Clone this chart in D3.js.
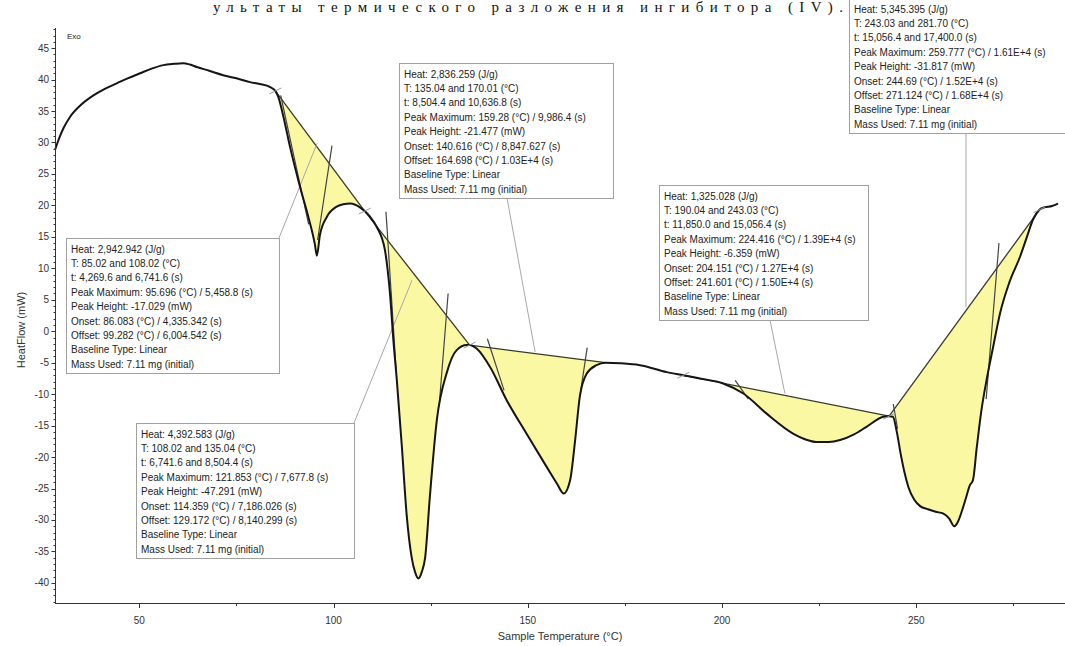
<!DOCTYPE html>
<html><head><meta charset="utf-8">
<script src="https://cdn.jsdelivr.net/npm/d3@7"></script>
<style>
body{margin:0;background:#fff;overflow:hidden;}
svg{display:block;font-family:"Liberation Sans",Arial,sans-serif;}
</style></head><body>
<svg id="c" width="1065" height="646"></svg>
<script>
// ---------- DATA ----------
const temps = [28.3,29.2,30.5,32.2,35,38.2,41,44.2,47,50.2,53,56.2,59,61.3,63,64.8,68,71.6,75,78.5,81,83.7,
  85.02,85.8,87.1,88.8,91.4,93.5,95.2,95.7,96.5,98.3,100.8,102.5,104.3,106.8,108.02,109.4,111.1,113.2,114.6,115.4,
  116.3,117.6,118.8,120.1,121.0,121.85,122.7,123.6,124.8,126.6,129.1,131.7,134.3,135.04,136.9,140.3,144.6,149.7,
  154.9,157.5,159.28,160.9,162.2,163.4,165.2,167.7,170.01,174,178.9,185.8,190.04,194.3,200.3,205.5,211.5,218.4,
  221.5,224.4,227.5,230.4,234,237.2,241.5,243.03,244,245,246,247,248,249.5,251,253,255,257,258.5,259.8,260.8,
  261.8,262.8,263.8,264.6,265.6,266.8,268.1,269.8,271.6,274,276.7,278.5,280.1,281.7,283,285,286.5];
const heatFlow = [28.8,30.4,32.3,34.1,36.0,37.5,38.5,39.4,40.2,41.0,41.7,42.3,42.5,42.6,42.4,42.0,41.4,40.7,40.2,39.6,39.3,38.8,
  38.2,37.2,34.1,29.3,22.9,18.2,13.8,12.0,15.3,18.2,19.8,20.2,20.3,19.7,19.1,18.2,16.6,13.0,5.5,-1.4,
  -7.8,-18.4,-29.0,-35.9,-38.3,-39.3,-38.3,-35.9,-26.3,-14.1,-6.7,-3.0,-2.2,-2.2,-2.8,-5.7,-11.0,-16.3,
  -21.6,-24.2,-25.8,-23.7,-17.3,-10.4,-6.7,-5.4,-5.0,-5.1,-5.4,-6.5,-7.0,-7.5,-8.3,-9.9,-13.1,-16.3,
  -17.2,-17.6,-17.6,-17.3,-16.4,-15.2,-13.6,-13.5,-13.6,-16.0,-19.5,-22.5,-24.8,-26.8,-27.8,-28.3,-28.7,-29.0,-29.8,-31.0,-30.2,
  -28.5,-26.5,-24.5,-23.7,-18.4,-12.5,-7.8,-2.5,2.9,7.8,11.8,15.0,17.8,19.3,19.7,19.9,20.3];

const peakStart = [85.02, 108.02, 135.04, 190.04, 243.03];
const peakEnd   = [108.02, 135.04, 170.01, 243.03, 281.70];

// onset / offset construction lines [t1, h1, t2, h2]
const tangents = [
  [86.4, 37.5, 93.6, 17.0], [99.6, 29.5, 95.9, 14.5],
  [113.5, 19.0, 116.1, -6.0], [129.5, 6.0, 127.3, -11.0],
  [139.6, -1.2, 143.9, -9.4], [165.3, -2.6, 163.4, -10.4],
  [203.4, -7.8, 206.8, -10.8],
  [244.1, -11.6, 245.2, -15.5], [271.3, 14.0, 268.0, -10.8]
];
// where each annotation's leader line points (data units)
const leaderTargets = [[95.8, 29.9], [120.2, 8.1], [151.9, -3.3], [216.2, -9.9], [262.8, 3.8]];

const xTicks = [50, 100, 150, 200, 250];
const xMinorTicks = [75, 125, 175, 225, 275];
const yTicks = [45,40,35,30,25,20,15,10,5,0,-5,-10,-15,-20,-25,-30,-35,-40];

const annotations = [
 ["Heat: 2,942.942 (J/g)","T: 85.02 and 108.02 (°C)","t: 4,269.6 and 6,741.6 (s)","Peak Maximum: 95.696 (°C) / 5,458.8 (s)","Peak Height: -17.029 (mW)","Onset: 86.083 (°C) / 4,335.342 (s)","Offset: 99.282 (°C) / 6,004.542 (s)","Baseline Type: Linear","Mass Used: 7.11 mg (initial)"],
 ["Heat: 4,392.583 (J/g)","T: 108.02 and 135.04 (°C)","t: 6,741.6 and 8,504.4 (s)","Peak Maximum: 121.853 (°C) / 7,677.8 (s)","Peak Height: -47.291 (mW)","Onset: 114.359 (°C) / 7,186.026 (s)","Offset: 129.172 (°C) / 8,140.299 (s)","Baseline Type: Linear","Mass Used: 7.11 mg (initial)"],
 ["Heat: 2,836.259 (J/g)","T: 135.04 and 170.01 (°C)","t: 8,504.4 and 10,636.8 (s)","Peak Maximum: 159.28 (°C) / 9,986.4 (s)","Peak Height: -21.477 (mW)","Onset: 140.616 (°C) / 8,847.627 (s)","Offset: 164.698 (°C) / 1.03E+4 (s)","Baseline Type: Linear","Mass Used: 7.11 mg (initial)"],
 ["Heat: 1,325.028 (J/g)","T: 190.04 and 243.03 (°C)","t: 11,850.0 and 15,056.4 (s)","Peak Maximum: 224.416 (°C) / 1.39E+4 (s)","Peak Height: -6.359 (mW)","Onset: 204.151 (°C) / 1.27E+4 (s)","Offset: 241.601 (°C) / 1.50E+4 (s)","Baseline Type: Linear","Mass Used: 7.11 mg (initial)"],
 ["Heat: 5,345.395 (J/g)","T: 243.03 and 281.70 (°C)","t: 15,056.4 and 17,400.0 (s)","Peak Maximum: 259.777 (°C) / 1.61E+4 (s)","Peak Height: -31.817 (mW)","Onset: 244.69 (°C) / 1.52E+4 (s)","Offset: 271.124 (°C) / 1.68E+4 (s)","Baseline Type: Linear","Mass Used: 7.11 mg (initial)"]
];
const xTitle = "Sample Temperature (°C)";
const yTitle = "HeatFlow (mW)";
const cornerLabel = "Exo";
const pageText = "ультаты термического разложения ингибитора (IV).";

// ---------- LAYOUT (pixels) ----------
const boxLayout = [
  {x:66, y:238, w:213, lx:279, ly:238},
  {x:136, y:423, w:218, lx:354, ly:423},
  {x:399, y:63, w:214, lx:507, ly:198},
  {x:659, y:185, w:209, lx:770, ly:320},
  {x:849, y:-2, w:230, lx:966, ly:133}
];
const boxH = 135, lineGap = 14.4;

// ---------- DRAW ----------
const svg = d3.select("#c");
const x = d3.scaleLinear().domain([28.3, 288.3]).range([55, 1065]);
const y = d3.scaleLinear().domain([48.2, -43.2]).range([28, 603]);

const pts = temps.map((t,i)=>({t, h: heatFlow[i]}));
const hAt = t => {
  for (let i=0;i<temps.length-1;i++){
    if (t>=temps[i] && t<=temps[i+1]) {
      const f=(t-temps[i])/(temps[i+1]-temps[i]);
      return heatFlow[i]+f*(heatFlow[i+1]-heatFlow[i]);
    }
  }
  return heatFlow[heatFlow.length-1];
};

// page text strip above the chart
svg.append("text").attr("x",213).attr("y",12).attr("font-family","'Liberation Serif','Times New Roman',serif")
  .attr("font-size",15).attr("fill","#111")
  .attr("textLength",630).attr("lengthAdjust","spacing").text(pageText);

const plot = svg.append("g");

// peak fills
peakStart.forEach((s,k)=>{
  const e = peakEnd[k], hs = hAt(s), he = hAt(e);
  const seg = [{t:s,h:hs}].concat(pts.filter(p=>p.t>s && p.t<e)).concat([{t:e,h:he}]);
  seg.forEach(p=>p.b = hs + (he-hs)*(p.t-s)/(e-s));
  plot.append("path").datum(seg)
    .attr("d", d3.area().x(d=>x(d.t)).y0(d=>y(d.b)).y1(d=>y(d.h)).curve(d3.curveMonotoneX))
    .attr("fill","#fbf8a4").attr("stroke","none");
  plot.append("line").attr("x1",x(s)).attr("y1",y(hs)).attr("x2",x(e)).attr("y2",y(he))
    .attr("stroke","#3a3a2a").attr("stroke-width",1.3);
});

// leader lines
boxLayout.forEach((b,k)=>{
  plot.append("line").attr("x1",b.lx).attr("y1",b.ly)
    .attr("x2",x(leaderTargets[k][0])).attr("y2",y(leaderTargets[k][1]))
    .attr("stroke","#a8a8a8").attr("stroke-width",1);
});

// tangent lines
tangents.forEach(s=>{
  plot.append("line").attr("x1",x(s[0])).attr("y1",y(s[1])).attr("x2",x(s[2])).attr("y2",y(s[3]))
    .attr("stroke","#444").attr("stroke-width",1.2);
});

// curve
plot.append("path").datum(pts)
  .attr("d", d3.line().x(d=>x(d.t)).y(d=>y(d.h)).curve(d3.curveMonotoneX))
  .attr("fill","none").attr("stroke","#151515").attr("stroke-width",2);

// small grey markers at integration limits
peakStart.concat([peakEnd[peakEnd.length-1]]).forEach(t=>{
  const px=x(t), py=y(hAt(t));
  plot.append("line").attr("x1",px-6).attr("y1",py+3).attr("x2",px+6).attr("y2",py-3)
    .attr("stroke","#999").attr("stroke-width",1);
});

// annotation boxes
boxLayout.forEach((b,k)=>{
  const g = svg.append("g");
  g.append("rect").attr("x",b.x+0.5).attr("y",b.y+0.5).attr("width",b.w).attr("height",boxH)
    .attr("fill","#fff").attr("stroke","#a0a0a0").attr("stroke-width",1);
  annotations[k].forEach((line,i)=>{
    g.append("text").attr("x",b.x+5).attr("y",b.y+14.5+i*lineGap)
      .attr("font-size",10).attr("fill","#222").text(line);
  });
});

// axes
const axG = svg.append("g").attr("stroke","#333").attr("fill","none");
axG.append("line").attr("x1",55.5).attr("y1",28).attr("x2",55.5).attr("y2",603.5);
axG.append("line").attr("x1",55).attr("y1",603.5).attr("x2",1065).attr("y2",603.5);
d3.range(-43,49,1).forEach(v=>{
  const major = v%5===0;
  axG.append("line").attr("x1",55.5-(major?4:2)).attr("x2",55.5)
    .attr("y1",Math.round(y(v))+0.5).attr("y2",Math.round(y(v))+0.5).attr("stroke-width",1);
});
xTicks.forEach(v=>{
  axG.append("line").attr("x1",Math.round(x(v))+0.5).attr("x2",Math.round(x(v))+0.5)
    .attr("y1",603.5).attr("y2",608);
});
xMinorTicks.forEach(v=>{
  axG.append("line").attr("x1",Math.round(x(v))+0.5).attr("x2",Math.round(x(v))+0.5)
    .attr("y1",603.5).attr("y2",606);
});
yTicks.forEach(v=>{
  svg.append("text").attr("x",49).attr("y",y(v)+3.5).attr("text-anchor","end")
    .attr("font-size",10).attr("fill","#333").text(v);
});
xTicks.forEach(v=>{
  svg.append("text").attr("x",x(v)).attr("y",624).attr("text-anchor","middle")
    .attr("font-size",10).attr("fill","#333").text(v);
});
svg.append("text").attr("x",560).attr("y",640).attr("text-anchor","middle")
  .attr("font-size",11).attr("fill","#333").text(xTitle);
svg.append("text").attr("transform","translate(25,330) rotate(-90)").attr("text-anchor","middle")
  .attr("font-size",11).attr("fill","#333").text(yTitle);
svg.append("text").attr("x",67).attr("y",39).attr("font-size",8).attr("fill","#222").text(cornerLabel);
</script>
</body></html>
